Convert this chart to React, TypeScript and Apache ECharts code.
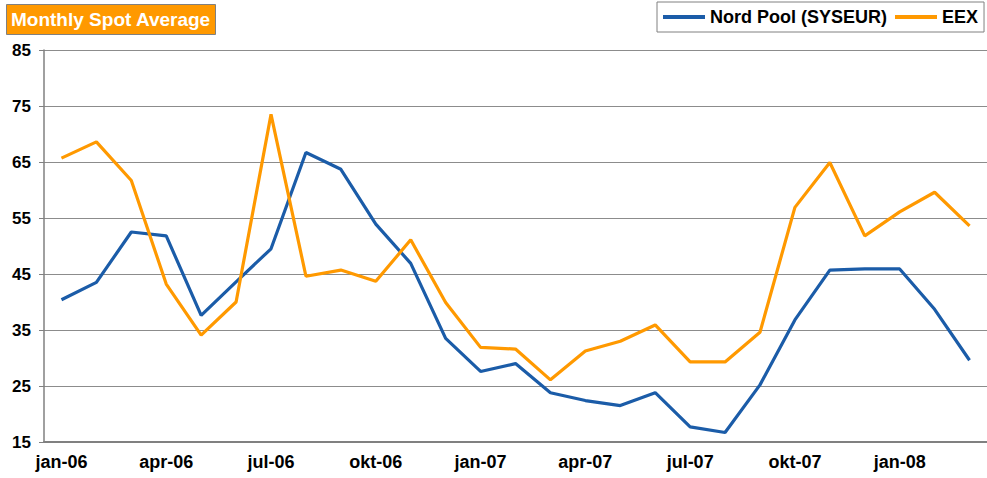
import React, { useEffect, useRef } from "react";
import * as echarts from "echarts";

const months = [
  "jan-06", "feb-06", "mar-06", "apr-06", "maj-06", "jun-06", "jul-06", "aug-06", "sep-06",
  "okt-06", "nov-06", "dec-06", "jan-07", "feb-07", "mar-07", "apr-07", "maj-07", "jun-07",
  "jul-07", "aug-07", "sep-07", "okt-07", "nov-07", "dec-07", "jan-08", "feb-08", "mar-08",
];

const nordPool = [
  40.4, 43.5, 52.5, 51.8, 37.6, 43.6, 49.5, 66.7, 63.7, 53.9, 46.9, 33.5, 27.6,
  29.0, 23.8, 22.4, 21.5, 23.8, 17.7, 16.7, 25.2, 36.8, 45.7, 45.9, 45.9, 38.7, 29.6,
];

const eex = [
  65.7, 68.6, 61.7, 43.2, 34.1, 40.0, 73.5, 44.6, 45.7, 43.7, 51.1, 39.9, 31.9,
  31.6, 26.1, 31.25, 33.0, 35.9, 29.3, 29.3, 34.6, 56.9, 64.9, 51.8, 56.1, 59.6, 53.6,
];

const FONT = "'Liberation Sans', Arial, sans-serif";

export default function App() {
  const ref = useRef<HTMLDivElement>(null);
  useEffect(() => {
    if (!ref.current) return;
    const chart = echarts.init(ref.current, undefined, { renderer: "svg" });
    chart.setOption({
      animation: false,
      backgroundColor: "#ffffff",
      title: {
        text: "Monthly Spot Average",
        left: 6,
        top: 4,
        padding: [6, 5, 6, 5],
        backgroundColor: "#FF9900",
        borderColor: "#808080",
        borderWidth: 1,
        textStyle: { color: "#ffffff", fontSize: 19, fontWeight: "bold", fontFamily: FONT, lineHeight: 19 },
      },
      legend: {
        left: 657,
        top: 2,
        padding: [6, 6, 6, 6],
        borderColor: "#808080",
        borderWidth: 1,
        itemWidth: 42,
        itemHeight: 4,
        itemGap: 8,
        icon: "rect",
        textStyle: { color: "#000", fontSize: 18, fontWeight: "bold", fontFamily: FONT, lineHeight: 18 },
        data: ["Nord Pool (SYSEUR)", "EEX"],
      },
      grid: { left: 44, right: 0, top: 50, bottom: 36, containLabel: false },
      xAxis: {
        type: "category",
        data: months,
        boundaryGap: true,
        axisLine: { lineStyle: { color: "#808080", width: 2 } },
        axisTick: { interval: 2, length: 5, lineStyle: { color: "#808080" } },
        axisLabel: {
          interval: 2,
          margin: 11,
          color: "#000",
          fontSize: 18,
          fontWeight: "bold",
          fontFamily: FONT,
        },
        splitLine: { show: false },
      },
      yAxis: {
        type: "value",
        min: 15,
        max: 85,
        interval: 10,
        axisLine: { show: true, lineStyle: { color: "#808080", width: 1.5 } },
        axisTick: { show: true, length: 5, lineStyle: { color: "#808080" } },
        axisLabel: {
          margin: 13,
          color: "#000",
          fontSize: 17,
          fontWeight: "bold",
          fontFamily: FONT,
        },
        splitLine: { lineStyle: { color: "#8c8c8c", width: 1 } },
      },
      series: [
        {
          name: "Nord Pool (SYSEUR)",
          type: "line",
          data: nordPool,
          symbol: "none",
          color: "#1B5CA8",
          lineStyle: { color: "#1B5CA8", width: 3.2 },
        },
        {
          name: "EEX",
          type: "line",
          data: eex,
          symbol: "none",
          color: "#FF9900",
          lineStyle: { color: "#FF9900", width: 3.2 },
        },
      ],
    });
    return () => chart.dispose();
  }, []);
  return <div ref={ref} style={{ width: 987, height: 478, position: "absolute", left: 0, top: 0 }} />;
}
